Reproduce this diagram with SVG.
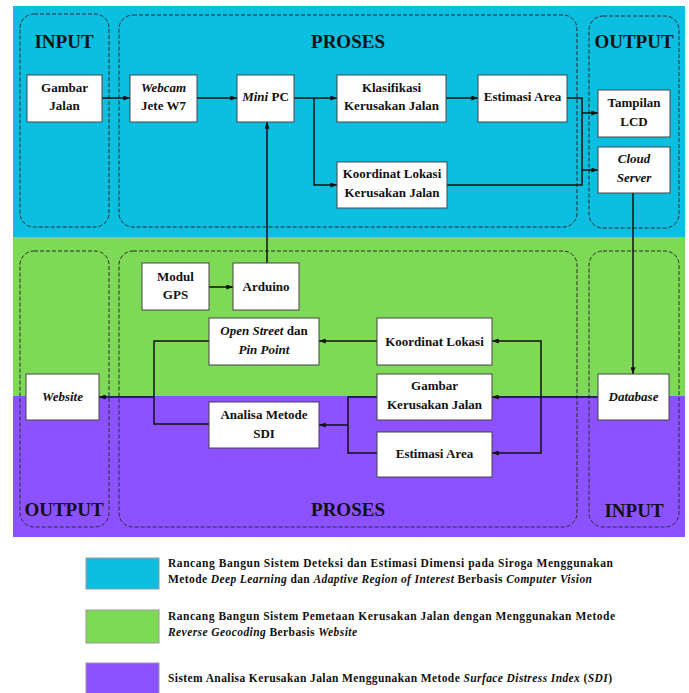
<svg xmlns="http://www.w3.org/2000/svg" width="689" height="693" viewBox="0 0 689 693">
<defs>
<marker id="ah" viewBox="0 0 8 6" refX="8" refY="3" markerWidth="7" markerHeight="5" orient="auto" markerUnits="userSpaceOnUse"><path d="M0,0 L8,3 L0,6 z" fill="#111"/></marker>
</defs>
<style>
.zone{stroke:none}
.cont{fill:none;stroke:#2a2a2a;stroke-width:1;stroke-dasharray:4 2}
.box{fill:#fff;stroke:#444;stroke-width:1}
.t{font-family:"Liberation Serif","Times New Roman",serif;font-weight:bold;font-size:13px;fill:#111;text-anchor:middle}
.i{font-style:italic}
.h{font-family:"Liberation Serif","Times New Roman",serif;font-weight:bold;font-size:19px;fill:#111;text-anchor:middle}
.c{fill:none;stroke:#111;stroke-width:1.5}
.a{marker-end:url(#ah)}
.lg{font-family:"Liberation Serif","Times New Roman",serif;font-weight:bold;font-size:11.5px;fill:#111}
.lb{stroke:#999;stroke-width:1}
</style>
<rect width="689" height="693" fill="#fff"/>
<g id="zones">
<rect class="zone" x="13" y="6" width="672" height="231" fill="#0CBEE0"/>
<rect class="zone" x="13" y="237" width="672" height="159" fill="#7ED957"/>
<rect class="zone" x="13" y="396" width="672" height="141" fill="#8C52FF"/>
</g>
<g id="containers">
<rect class="cont" x="20" y="14" width="89" height="213" rx="14"/>
<rect class="cont" x="119" y="15" width="458" height="212" rx="14"/>
<rect class="cont" x="589" y="16" width="90" height="212" rx="14"/>
<rect class="cont" x="20" y="251" width="89" height="276" rx="14"/>
<rect class="cont" x="119" y="251" width="458" height="276" rx="14"/>
<rect class="cont" x="589" y="251" width="90" height="276" rx="14"/>
<text class="h" x="64" y="48">INPUT</text>
<text class="h" x="348" y="48">PROSES</text>
<text class="h" x="634" y="48">OUTPUT</text>
<text class="h" x="64" y="516">OUTPUT</text>
<text class="h" x="348" y="516">PROSES</text>
<text class="h" x="634" y="517">INPUT</text>
</g>
<g id="connectors">
<path class="c a" d="M102,98 H130"/>
<path class="c a" d="M197,98 H237"/>
<path class="c a" d="M294,98 H337"/>
<path class="c a" d="M314,98 V185 H337"/>
<path class="c a" d="M446,98 H478"/>
<path class="c" d="M567,98 H582 V185 H447"/>
<path class="c a" d="M582,113 H598"/>
<path class="c a" d="M582,170 H598"/>
<path class="c a" d="M633,193 V374"/>
<path class="c a" d="M267,263 V122"/>
<path class="c a" d="M209,287 H233"/>
<path class="c a" d="M598,397 H492"/>
<path class="c a" d="M541,397 V341 H492"/>
<path class="c a" d="M541,397 V453 H492"/>
<path class="c a" d="M377,341 H319"/>
<path class="c" d="M209,341 H154 V424 H209"/>
<path class="c a" d="M154,397 H99"/>
<path class="c" d="M377,397 H348 V453 H377"/>
<path class="c a" d="M348,425 H319"/>
</g>
<g id="gambar-jalan"><rect class="box" x="27" y="75" width="75" height="47"/><text class="t" x="64.5" y="92">Gambar</text><text class="t" x="64.5" y="110">Jalan</text></g>
<g id="webcam"><rect class="box" x="130" y="75" width="67" height="47"/><text class="t i" x="163.5" y="92">Webcam</text><text class="t" x="163.5" y="110">Jete W7</text></g>
<g id="mini-pc"><rect class="box" x="237" y="75" width="57" height="47"/><text class="t" x="265.5" y="101"><tspan class="i">Mini</tspan> PC</text></g>
<g id="klasifikasi"><rect class="box" x="337" y="75" width="109" height="47"/><text class="t" x="391.5" y="92">Klasifikasi</text><text class="t" x="391.5" y="110">Kerusakan Jalan</text></g>
<g id="estimasi-area-1"><rect class="box" x="478" y="75" width="89" height="47"/><text class="t" x="522.5" y="101">Estimasi Area</text></g>
<g id="tampilan-lcd"><rect class="box" x="598" y="90" width="72" height="47"/><text class="t" x="634" y="107">Tampilan</text><text class="t" x="634" y="126">LCD</text></g>
<g id="cloud-server"><rect class="box" x="598" y="147" width="72" height="46"/><text class="t i" x="634" y="163">Cloud</text><text class="t i" x="634" y="182">Server</text></g>
<g id="koordinat-kerusakan"><rect class="box" x="337" y="162" width="110" height="46"/><text class="t" x="392" y="178">Koordinat Lokasi</text><text class="t" x="392" y="197">Kerusakan Jalan</text></g>
<g id="modul-gps"><rect class="box" x="142" y="263" width="67" height="47"/><text class="t" x="175.5" y="281">Modul</text><text class="t" x="175.5" y="299">GPS</text></g>
<g id="arduino"><rect class="box" x="233" y="263" width="66" height="47"/><text class="t" x="266" y="291">Arduino</text></g>
<g id="open-street"><rect class="box" x="209" y="318" width="110" height="47"/><text class="t" x="264" y="335"><tspan class="i">Open Street</tspan> dan</text><text class="t i" x="264" y="354">Pin Point</text></g>
<g id="koordinat-lokasi"><rect class="box" x="377" y="318" width="115" height="47"/><text class="t" x="434.5" y="346">Koordinat Lokasi</text></g>
<g id="gambar-kerusakan"><rect class="box" x="377" y="374" width="115" height="46"/><text class="t" x="434.5" y="390">Gambar</text><text class="t" x="434.5" y="409">Kerusakan Jalan</text></g>
<g id="database"><rect class="box" x="598" y="374" width="71" height="46"/><text class="t i" x="633.5" y="401">Database</text></g>
<g id="website"><rect class="box" x="26" y="374" width="73" height="46"/><text class="t i" x="62.5" y="401">Website</text></g>
<g id="analisa-sdi"><rect class="box" x="209" y="402" width="110" height="46"/><text class="t" x="264" y="419">Analisa Metode</text><text class="t" x="264" y="438">SDI</text></g>
<g id="estimasi-area-2"><rect class="box" x="377" y="432" width="115" height="45"/><text class="t" x="434.5" y="458">Estimasi Area</text></g>
<g id="legend">
<rect class="lb" x="86" y="558" width="73" height="31" fill="#0CBEE0"/>
<rect class="lb" x="86" y="610" width="73" height="33" fill="#7ED957"/>
<rect class="lb" x="86" y="663" width="73" height="32" fill="#8C52FF"/>
<text class="lg" x="168" y="567" textLength="445" lengthAdjust="spacing">Rancang Bangun Sistem Deteksi dan Estimasi Dimensi pada Siroga Menggunakan</text>
<text class="lg" x="168" y="583" textLength="424" lengthAdjust="spacing">Metode <tspan class="i">Deep Learning</tspan> dan <tspan class="i">Adaptive Region of Interest</tspan> Berbasis <tspan class="i">Computer Vision</tspan></text>
<text class="lg" x="168" y="620" textLength="447" lengthAdjust="spacing">Rancang Bangun Sistem Pemetaan Kerusakan Jalan dengan Menggunakan Metode</text>
<text class="lg" x="168" y="636" textLength="189" lengthAdjust="spacing"><tspan class="i">Reverse Geocoding</tspan> Berbasis <tspan class="i">Website</tspan></text>
<text class="lg" x="168" y="682" textLength="444" lengthAdjust="spacing">Sistem Analisa Kerusakan Jalan Menggunakan Metode <tspan class="i">Surface Distress Index</tspan> (<tspan class="i">SDI</tspan>)</text>
</g>
</svg>
